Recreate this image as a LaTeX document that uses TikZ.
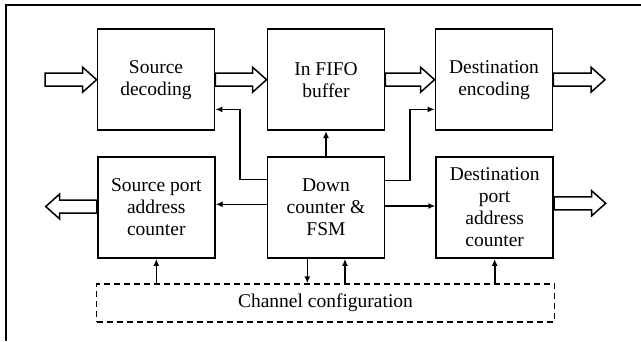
\documentclass[tikz,border=0pt]{standalone}
\usepackage{fontspec}
\setmainfont{Liberation Serif}
\usetikzlibrary{arrows.meta,calc}

\tikzset{
  block/.style={draw, line width=1.8pt, minimum width=117pt, minimum height=101pt,
    inner sep=0pt, align=center, font=\fontsize{19.5}{22}\selectfont},
  cfgbox/.style={draw, line width=1.5pt, dash pattern=on 6pt off 4pt,
    minimum width=457.6pt, minimum height=37.7pt, inner sep=0pt,
    font=\fontsize{19.5}{22}\selectfont},
  link/.style={line width=1.6pt, -{Latex[length=7pt,width=6pt]}},
  fat/.style={draw, line width=1.5pt, fill=white, line join=miter},
  frame/.style={line width=1.6pt}
}

% hollow block arrow from #1 to #2 (horizontal)
\newcommand\fatarrow[2]{%
  \path[fat] let \p1=(#1), \p2=(#2), \n1={sign(\x2-\x1)} in
    (\x1,\y1+6.5pt) -- ({\x2-\n1*14pt},\y1+6.5pt) -- ({\x2-\n1*14pt},\y1+12.5pt)
    -- (\x2,\y1) -- ({\x2-\n1*14pt},\y1-12.5pt) -- ({\x2-\n1*14pt},\y1-6.5pt)
    -- (\x1,\y1-6.5pt) -- cycle;}

\begin{document}
\begin{tikzpicture}[x=1pt,y=-1pt]
  \useasboundingbox (0,0) rectangle (641,341);

  % outer frame (top and left edges)
  \draw[frame] (6,341) -- (6,5) -- (641,5);

  % blocks
  \node[block] (srcdec)  at (156,79.7)  {Source\\decoding};
  \node[block] (fifo)    at (326,79.7)  {In FIFO\\buffer};
  \node[block] (dstenc)  at (494,79.7)  {Destination\\encoding};
  \node[block] (srcport) at (156.3,207.5) {Source port\\address\\counter};
  \node[block] (fsm)     at (326,207.5) {Down\\counter \&\\FSM};
  \node[block] (dstport) at (494.7,207.5) {Destination\\port\\address\\counter};
  \node[cfgbox] (cfg)    at (325.5,302.9) {Channel configuration};

  % free ends of the external data arrows
  \coordinate (datain)   at (45,79.7);
  \coordinate (dataout)  at (605,79.7);
  \coordinate (srcaddr)  at (45.7,206.5);
  \coordinate (dstaddr)  at (605.7,203.3);

  % data path
  \fatarrow{datain}{srcdec.west}
  \fatarrow{srcdec.east}{fifo.west}
  \fatarrow{fifo.east}{dstenc.west}
  \fatarrow{dstenc.east}{dataout}
  \fatarrow{srcport.west |- srcaddr}{srcaddr}
  \fatarrow{dstport.east |- dstaddr}{dstaddr}

  % control links from the FSM
  \draw[link] ([yshift=-23.3pt]fsm.north west) -- ++(-26.4,0)
              |- ([yshift=21.7pt]srcdec.south east);
  \draw[link] ([yshift=-24.3pt]fsm.north east) -- ++(24.7,0)
              |- ([yshift=21.7pt]dstenc.south west);
  \draw[link] (fsm.north) -- (fifo.south);
  \draw[link] ([yshift=3.2pt]fsm.west) -- ([yshift=3.2pt]srcport.east);
  \draw[link] ([yshift=1.5pt]fsm.east) -- ([yshift=1.5pt]dstport.west);

  % configuration links
  \draw[link] (srcport.south |- cfg.north) -- (srcport.south);
  \draw[link] ([xshift=-18.7pt]fsm.south) -- ([xshift=-18.7pt]fsm.south |- cfg.north);
  \draw[link] ([xshift=19pt]fsm.south |- cfg.north) -- ([xshift=19pt]fsm.south);
  \draw[link] (dstport.south |- cfg.north) -- (dstport.south);
\end{tikzpicture}
\end{document}
